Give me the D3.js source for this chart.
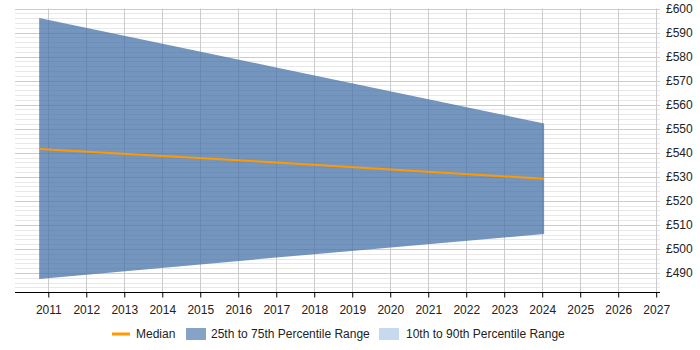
<!DOCTYPE html>
<html>
<head>
<meta charset="utf-8">
<script src="https://cdn.jsdelivr.net/npm/d3@7"></script>
<style>
  body { margin: 0; background: #fff; }
  text { font-family: "Liberation Sans", Arial, sans-serif; font-size: 12px; fill: #222; }
</style>
</head>
<body>
<div id="vis"></div>
<script>
// (decimal years)
var dates  = [2010.76, 2017.0, 2024.05];
var p25    = [487.5, 496.4, 506.2];
var p75    = [596.0, 575.5, 552.2];
var median = [541.6, 536.0, 529.2];
var yearTicks = d3.range(2011, 2028);
var priceTicks = d3.range(490, 601, 10);

var W = 700, H = 350;
var pl = 15, pr = 660, pt = 8.5, pb = 292;   // plot box (don't use "top", it's window.top)

var svg = d3.select("#vis").append("svg")
  .attr("width", W)
  .attr("height", H);

var x = d3.scaleLinear().domain([2010.124, 2027.1]).range([pl, pr]);
var y = d3.scaleLinear().domain([482.1, 600]).range([pb, pt]);

// minor grid every 2, major every 10
var minor = d3.range(484, 601, 2).filter(function(v){ return v % 10 != 0; });
svg.append("g").selectAll("line").data(minor).enter().append("line")
  .attr("x1", pl).attr("x2", pr)
  .attr("y1", function(d){ return Math.round(y(d)) + 0.5; })
  .attr("y2", function(d){ return Math.round(y(d)) + 0.5; })
  .attr("stroke", "#e8e8e8");
svg.append("g").selectAll("line").data(priceTicks).enter().append("line")
  .attr("x1", pl).attr("x2", pr)
  .attr("y1", function(d){ return Math.round(y(d)) + 0.5; })
  .attr("y2", function(d){ return Math.round(y(d)) + 0.5; })
  .attr("stroke", "#cccccc");
svg.append("g").selectAll("line").data(yearTicks).enter().append("line")
  .attr("x1", function(d){ return Math.round(x(d)) + 0.5; })
  .attr("x2", function(d){ return Math.round(x(d)) + 0.5; })
  .attr("y1", pt).attr("y2", pb)
  .attr("stroke", "#cccccc");

// 25th-75th band
var band = dates.map(function(d, i){ return {d: d, lo: p25[i], hi: p75[i]}; });
svg.append("path")
  .datum(band)
  .attr("fill", "#4572a7")
  .attr("fill-opacity", 0.75)
  .attr("d", d3.area()
    .x(function(d){ return x(d.d); })
    .y0(function(d){ return y(d.lo); })
    .y1(function(d){ return y(d.hi); }));

// median
svg.append("path")
  .datum(dates.map(function(d, i){ return {d: d, v: median[i]}; }))
  .attr("fill", "none")
  .attr("stroke", "#ff9900")
  .attr("stroke-width", 2)
  .attr("d", d3.line()
    .x(function(d){ return x(d.d); })
    .y(function(d){ return y(d.v); }));

// x axis
var xa = svg.append("g")
  .attr("transform", "translate(0," + (pb + 0.5) + ")")
  .call(d3.axisBottom(x).tickValues(yearTicks).tickFormat(d3.format("d")).tickSize(5).tickSizeOuter(0));
xa.select(".domain").attr("stroke", "#000").attr("d", "M" + pl + ",0H" + pr);
xa.selectAll(".tick line").attr("stroke", "#000");
xa.selectAll("text").attr("font-size", 12).attr("font-family", null).attr("dy", "1.1em");

// y labels on the right
svg.append("g").selectAll("text").data(priceTicks).enter().append("text")
  .attr("x", 666)
  .attr("y", function(d){ return y(d); })
  .attr("dy", "0.35em")
  .text(function(d){ return "£" + d; });

// legend
var lg = svg.append("g").attr("transform", "translate(0,334)");
lg.append("line").attr("x1", 112).attr("x2", 130).attr("y1", 0).attr("y2", 0)
  .attr("stroke", "#ff9900").attr("stroke-width", 3);
lg.append("text").attr("x", 136).attr("y", 0).attr("dy", "0.35em").text("Median");
lg.append("rect").attr("x", 186).attr("y", -6).attr("width", 20).attr("height", 12)
  .attr("fill", "#4572a7").attr("fill-opacity", 0.65);
lg.append("text").attr("x", 211).attr("y", 0).attr("dy", "0.35em").text("25th to 75th Percentile Range");
lg.append("rect").attr("x", 379).attr("y", -6).attr("width", 20).attr("height", 12)
  .attr("fill", "#c6d9ee");
lg.append("text").attr("x", 406).attr("y", 0).attr("dy", "0.35em").text("10th to 90th Percentile Range");
</script>
</body>
</html>
